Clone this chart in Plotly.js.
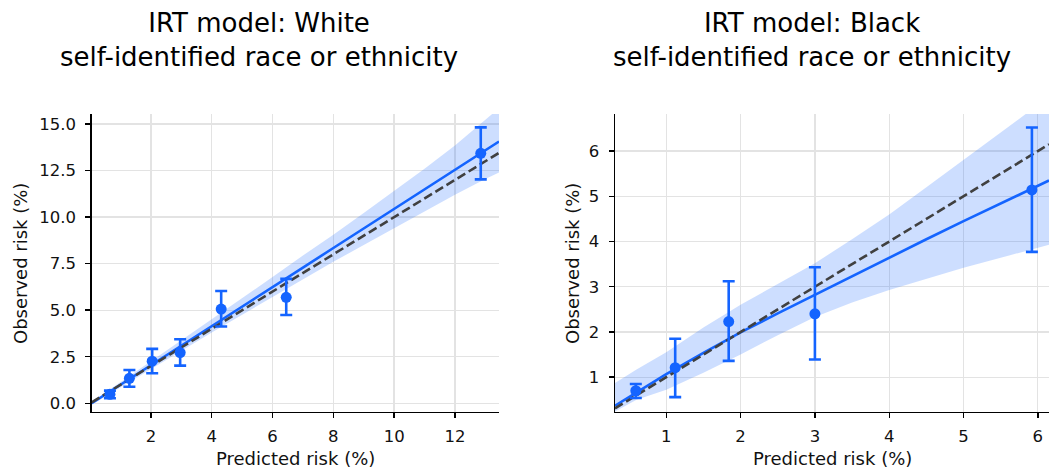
<!DOCTYPE html>
<html>
<head>
<meta charset="utf-8">
<script src="https://cdn.plot.ly/plotly-3.0.1.min.js"></script>
<style>html,body{margin:0;padding:0;background:#fff;}#chart{width:1050px;height:469px;}</style>
</head>
<body>
<div id="chart"></div>
<script>
// ---------- Data: White panel ----------
const whitePredicted = [0.65, 1.29, 2.04, 2.96, 4.31, 6.45, 12.85];
const whiteObserved  = [0.48, 1.34, 2.26, 2.72, 5.06, 5.69, 13.43];
const whiteErrLow    = [0.27, 0.89, 1.61, 2.02, 4.12, 4.74, 12.03];
const whiteErrHigh   = [0.68, 1.79, 2.92, 3.44, 6.03, 6.68, 14.82];
const whiteFitX      = [0.05, 1, 2, 3, 4, 5, 6, 7, 8, 9, 10, 11, 12, 13, 13.45];
const whiteFitY      = [0.0, 0.99, 2.04, 3.09, 4.14, 5.19, 6.24, 7.29, 8.34, 9.39, 10.44, 11.49, 12.54, 13.59, 14.06];
const whiteBandLow   = [-0.08, 0.86, 1.82, 2.80, 3.80, 4.76, 5.72, 6.66, 7.60, 8.50, 9.40, 10.30, 11.20, 12.05, 12.40];
const whiteBandHigh  = [0.08, 1.12, 2.26, 3.38, 4.50, 5.62, 6.78, 7.94, 9.05, 10.22, 11.40, 12.60, 13.85, 15.20, 15.85];
const whiteRange     = [0.05, 13.45];

// ---------- Data: Black panel ----------
const blackPredicted = [0.59, 1.12, 1.84, 3.00, 5.92];
const blackObserved  = [0.70, 1.21, 2.23, 2.40, 5.14];
const blackErrLow    = [0.54, 0.56, 1.36, 1.39, 3.77];
const blackErrHigh   = [0.85, 1.85, 3.12, 3.43, 6.52];
const blackFitX      = [0.31, 0.6, 1, 1.5, 2, 2.5, 3, 3.5, 4, 4.5, 5, 5.5, 6, 6.15];
const blackFitY      = [0.37, 0.66, 1.07, 1.54, 1.99, 2.41, 2.82, 3.24, 3.65, 4.05, 4.45, 4.84, 5.23, 5.35];
const blackBandLow   = [0.24, 0.50, 0.72, 1.10, 1.50, 1.93, 2.33, 2.65, 2.93, 3.18, 3.42, 3.64, 3.86, 3.93];
const blackBandHigh  = [0.87, 1.17, 1.55, 2.10, 2.60, 3.06, 3.52, 4.05, 4.60, 5.20, 5.80, 6.40, 7.00, 7.20];
const blackRange     = [0.31, 6.15];

// ---------- Tick labels ----------
const whiteXTicks = [2, 4, 6, 8, 10, 12];
const whiteYTicks = [0, 2.5, 5, 7.5, 10, 12.5, 15];
const blackXTicks = [1, 2, 3, 4, 5, 6];
const blackYTicks = [1, 2, 3, 4, 5, 6];

const titles = [
  'IRT model: White<br>self-identified race or ethnicity',
  'IRT model: Black<br>self-identified race or ethnicity'
];
const xLabel = 'Predicted risk (%)';
const yLabel = 'Observed risk (%)';

const BLUE = 'rgb(20,100,255)';
const BAND = 'rgba(20,100,255,0.21)';
const DASH = '#404040';

function panel(xa, ya, pred, obs, lo, hi, fx, fy, bl, bh, rng) {
  return [
    {x: fx, y: bl, xaxis: xa, yaxis: ya, type: 'scatter', mode: 'lines',
     line: {width: 0, color: BAND}, hoverinfo: 'skip', showlegend: false},
    {x: fx, y: bh, xaxis: xa, yaxis: ya, type: 'scatter', mode: 'lines',
     line: {width: 0, color: BAND}, fill: 'tonexty', fillcolor: BAND, hoverinfo: 'skip', showlegend: false},
    {x: fx, y: fy, xaxis: xa, yaxis: ya, type: 'scatter', mode: 'lines',
     line: {width: 2.6, color: BLUE}, showlegend: false},
    {x: rng, y: rng, xaxis: xa, yaxis: ya, type: 'scatter', mode: 'lines',
     line: {width: 2.6, color: DASH, dash: '9px,4px'}, showlegend: false},
    {x: pred, y: obs, xaxis: xa, yaxis: ya, type: 'scatter', mode: 'markers',
     marker: {size: 11, color: BLUE},
     error_y: {type: 'data', symmetric: false,
       array: obs.map((v, i) => hi[i] - v),
       arrayminus: obs.map((v, i) => v - lo[i]),
       color: BLUE, thickness: 2.6, width: 6},
     showlegend: false}
  ];
}

const data = [
  ...panel('x', 'y', whitePredicted, whiteObserved, whiteErrLow, whiteErrHigh, whiteFitX, whiteFitY, whiteBandLow, whiteBandHigh, whiteRange),
  ...panel('x2', 'y2', blackPredicted, blackObserved, blackErrLow, blackErrHigh, blackFitX, blackFitY, blackBandLow, blackBandHigh, blackRange)
];

const FONT = 'DejaVu Sans, sans-serif';
const axisCommon = {
  showline: true, linecolor: '#000', linewidth: 1.4, mirror: false,
  ticks: 'outside', ticklen: 5, tickwidth: 1.4, tickcolor: '#000',
  showgrid: true, gridcolor: '#e3e3e3', gridwidth: 1.3, zeroline: false,
  tickfont: {family: FONT, size: 16.5, color: '#111'},
  tickmode: 'array', fixedrange: true
};

const layout = {
  width: 1050, height: 469,
  margin: {l: 0, r: 0, t: 0, b: 0},
  paper_bgcolor: '#fff', plot_bgcolor: '#fff',
  showlegend: false,
  xaxis: Object.assign({}, axisCommon, {domain: [91.7/1050, 499/1050], range: whiteRange,
    tickvals: whiteXTicks, ticktext: whiteXTicks.map(String), anchor: 'y', ticklabelstandoff: 4}),
  yaxis: Object.assign({}, axisCommon, {domain: [57/469, 355/469], range: [-0.47, 15.54],
    tickvals: whiteYTicks, ticktext: whiteYTicks.map(v => v.toFixed(1)), anchor: 'x', ticklabelstandoff: 6}),
  xaxis2: Object.assign({}, axisCommon, {domain: [615/1050, 1049/1050], range: blackRange,
    tickvals: blackXTicks, ticktext: blackXTicks.map(String), anchor: 'y2', ticklabelstandoff: 4}),
  yaxis2: Object.assign({}, axisCommon, {domain: [57/469, 355/469], range: [0.23, 6.82],
    tickvals: blackYTicks, ticktext: blackYTicks.map(String), anchor: 'x2', ticklabelstandoff: 6}),
  annotations: [
    {text: titles[0], xref: 'paper', yref: 'paper', x: 258.5/1050, y: 1 - 40/469, xanchor: 'center', yanchor: 'middle',
     showarrow: false, font: {family: FONT, size: 26, color: '#000'}},
    {text: titles[1], xref: 'paper', yref: 'paper', x: 812/1050, y: 1 - 40/469, xanchor: 'center', yanchor: 'middle',
     showarrow: false, font: {family: FONT, size: 26, color: '#000'}},
    {text: xLabel, xref: 'paper', yref: 'paper', x: 295/1050, y: 1 - 458/469, xanchor: 'center', yanchor: 'middle',
     showarrow: false, font: {family: FONT, size: 18, color: '#111'}},
    {text: xLabel, xref: 'paper', yref: 'paper', x: 832/1050, y: 1 - 458/469, xanchor: 'center', yanchor: 'middle',
     showarrow: false, font: {family: FONT, size: 18, color: '#111'}},
    {text: yLabel, xref: 'paper', yref: 'paper', x: 20/1050, y: 1 - 264/469, xanchor: 'center', yanchor: 'middle',
     textangle: -90, showarrow: false, font: {family: FONT, size: 18, color: '#111'}},
    {text: yLabel, xref: 'paper', yref: 'paper', x: 572/1050, y: 1 - 264/469, xanchor: 'center', yanchor: 'middle',
     textangle: -90, showarrow: false, font: {family: FONT, size: 18, color: '#111'}}
  ]
};

Plotly.newPlot('chart', data, layout, {staticPlot: true, displayModeBar: false});
</script>
</body>
</html>
